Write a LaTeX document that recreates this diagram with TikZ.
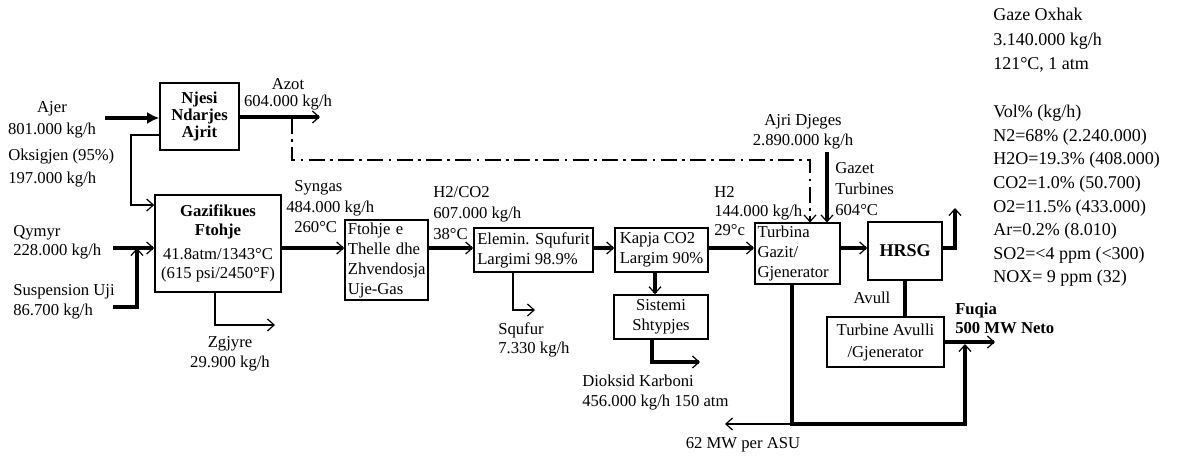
\documentclass[tikz,border=0pt]{standalone}
\usepackage{fontspec}
\setmainfont{Liberation Serif}
\usetikzlibrary{arrows.meta,calc}
\begin{document}
\begin{tikzpicture}[x=0.75pt,y=-0.75pt,
  box/.style={draw,line width=1.2pt,inner sep=2pt},
  txt/.style={font=\fontsize{12.5}{15}\selectfont,inner sep=0pt},
  rtxt/.style={font=\fontsize{13.5}{17.7}\selectfont,inner sep=0pt,align=left,anchor=north west},
  thk/.style={line width=2.9pt},
  thn/.style={line width=1.1pt},
  arr/.style={-{Straight Barb[line width=0.9pt,length=5pt,width=9pt]}},
  dashdot/.style={line width=1.1pt,dash pattern=on 12pt off 4pt on 2pt off 4pt}
]
\useasboundingbox (0,0) rectangle (1196,455);

% boxes
\node[box,minimum width=59.25pt,minimum height=50.25pt,align=center,font=\fontsize{12.5}{12.8}\selectfont\bfseries] (njesi) at (199.5,116.5) {Njesi\\Ndarjes\\Ajrit};
\node[box,minimum width=94.5pt,minimum height=72.75pt,align=center,font=\fontsize{12.5}{14}\selectfont] (gas) at (218,243.5) {\textbf{Gazifikues}\\\textbf{Ftohje}\\[4pt]41.8atm/1343°C\\(615 psi/2450°F)};
\node[box,minimum width=62.25pt,minimum height=60pt,align=left,font=\fontsize{12.5}{15}\selectfont,text width=58pt] (ftohje) at (386.5,260) {Ftohje e\\Thelle dhe\\Zhvendosja\\Uje-Gas};
\node[box,minimum width=89.25pt,minimum height=33pt,align=left,font=\fontsize{12.5}{15}\selectfont] (elemin) at (533.5,250) {Elemin. Squfurit\\Largimi 98.9\%};
\node[box,minimum width=69.75pt,minimum height=33pt,align=left,font=\fontsize{12.5}{15}\selectfont] (kapja) at (661.5,250) {Kapja CO2\\Largim 90\%};
\node[box,minimum width=70.5pt,minimum height=33pt,align=center,font=\fontsize{12.5}{15}\selectfont] (sist) at (661,317) {Sistemi\\Shtypjes};
\node[box,minimum width=63.75pt,minimum height=42.75pt,align=left,font=\fontsize{12.5}{15}\selectfont,text width=60pt] (turb) at (797.5,253.5) {Turbina\\Gazit/\\Gjenerator};
\node[box,minimum width=55.5pt,minimum height=43.5pt,font=\fontsize{13.5}{15}\selectfont\bfseries] (hrsg) at (905,251) {HRSG};
\node[box,minimum width=87.75pt,minimum height=37.5pt,align=center,font=\fontsize{12.5}{16.5}\selectfont] (tav) at (885.5,342) {Turbine Avulli\\/Gjenerator};

% coordinates
\coordinate (mY) at (0,248);
\coordinate (ajerS) at (105,118);
\coordinate (oxA) at (131,135);
\coordinate (oxB) at (131,205);
\coordinate (qyS) at (113,248);
\coordinate (suS) at (113,307);
\coordinate (suJ) at (137,307);
\coordinate (zgA) at (215,325);
\coordinate (zgB) at (275,325);
\coordinate (azE) at (320,117);
\coordinate (dA) at (292,118);
\coordinate (dB) at (292,160);
\coordinate (dC) at (810,160);
\coordinate (sqA) at (513,310);
\coordinate (sqB) at (535,310);
\coordinate (kx) at (655,0);
\coordinate (coA) at (652,362);
\coordinate (coB) at (700,362);
\coordinate (ajA) at (827,152);
\coordinate (exA) at (955,248);
\coordinate (exB) at (955,208);
\coordinate (fuE) at (995,342);
\coordinate (pA) at (792,424);
\coordinate (pB) at (965,424);
\coordinate (pC) at (965,344);
\coordinate (asu) at (725,424);

% connectors
\draw[thk,-{Latex[length=9pt,width=9pt]}] (ajerS) -- (ajerS -| njesi.west);
\draw[thn,arr] (oxA -| njesi.west) -- (oxA) -- (oxB) -- (oxB -| gas.west);
\draw[thk,arr] (qyS) -- (qyS -| gas.west);
\draw[thk,arr] (suS) -- (suJ) -- (suJ |- qyS);
\draw[thn,arr] (gas.south -| zgA) -- (zgA) -- (zgB);
\draw[thk,arr] (azE -| njesi.east) -- (azE);
\draw[dashdot,arr] (dA) -- (dB) -- (dC) -- (dC |- turb.north);
\draw[thk,arr] (gas.east |- mY) -- (ftohje.west |- mY);
\draw[thk,arr] (ftohje.east |- mY) -- (elemin.west |- mY);
\draw[thk,arr] (elemin.east |- mY) -- (kapja.west |- mY);
\draw[thk,arr] (kapja.east |- mY) -- (turb.west |- mY);
\draw[thk,arr] (turb.east |- mY) -- (hrsg.west |- mY);
\draw[thn,arr] (elemin.south -| sqA) -- (sqA) -- (sqB);
\draw[thk,arr] (kapja.south -| kx) -- (sist.north -| kx);
\draw[thk,arr] (sist.south -| coA) -- (coA) -- (coB);
\draw[thk,arr] (ajA) -- (ajA |- turb.north);
\draw[thk,arr] (hrsg.east |- mY) -- (exA) -- (exB);
\draw[thk] (hrsg.south) -- (hrsg.south |- tav.north);
\draw[thk,arr] (tav.east |- fuE) -- (fuE);
\draw[thk,arr] (turb.south -| pA) -- (pA) -- (pB) -- (pC);
\draw[thn,arr] (pA) -- (asu);

% labels
\node[txt,align=center,font=\fontsize{12.5}{16.5}\selectfont] (tAjer) at (52,120) {Ajer\\801.000 kg/h};
\node[txt,align=left,anchor=west,font=\fontsize{12.5}{17}\selectfont] (tOks) at (8,168) {Oksigjen (95\%)\\197.000 kg/h};
\node[txt,align=left,anchor=west,font=\fontsize{12.5}{14.3}\selectfont] (tQy) at (13,242) {Qymyr\\228.000 kg/h};
\node[txt,align=left,anchor=west] (tSu) at (13,302) {Suspension Uji\\86.700 kg/h};
\node[txt,align=center,font=\fontsize{12.5}{12.5}\selectfont] (tAzot) at (288,94) {Azot\\604.000 kg/h};
\node[txt,align=center] (tZg) at (230,354) {Zgjyre\\29.900 kg/h};
\node[txt,align=left,anchor=west,font=\fontsize{12.5}{15.4}\selectfont] (tSyn) at (286,207) {\hspace*{6pt}Syngas\\484.000 kg/h\\\hspace*{6pt}260°C};
\node[txt,align=left,anchor=west,font=\fontsize{12.5}{15.75}\selectfont] (tH2C) at (433,213) {H2/CO2\\607.000 kg/h\\38°C};
\node[txt,align=left,anchor=west,font=\fontsize{12.5}{14.3}\selectfont] (tSq) at (498,340) {Squfur\\7.330 kg/h};
\node[txt,align=left,anchor=west,font=\fontsize{12.5}{14.3}\selectfont] (tH2) at (714,211) {H2\\144.000 kg/h\\29°c};
\node[txt,align=center] (tAj) at (803,132) {Ajri Djeges\\2.890.000 kg/h};
\node[txt,align=left,anchor=west,font=\fontsize{12.5}{15.75}\selectfont] (tGz) at (835,189) {Gazet\\Turbines\\604°C};
\node[txt] (tAv) at (872,298) {Avull};
\node[txt,align=left,anchor=west,font=\fontsize{12.5}{14.3}\selectfont\bfseries] (tFu) at (955,318) {Fuqia\\500 MW Neto};
\node[txt,align=left,anchor=west] (tDk) at (582,393) {Dioksid Karboni\\456.000 kg/h 150 atm};
\node[txt] (tAsu) at (743,445) {62 MW per ASU};
\node[rtxt,font=\fontsize{13.5}{18.4}\selectfont] (tGo) at (993,8) {Gaze Oxhak\\3.140.000 kg/h\\121°C, 1 atm};
\node[rtxt] (tVol) at (993,105) {Vol\% (kg/h)\\N2=68\% (2.240.000)\\H2O=19.3\% (408.000)\\CO2=1.0\% (50.700)\\O2=11.5\% (433.000)\\Ar=0.2\% (8.010)\\SO2=<4 ppm (<300)\\NOX= 9 ppm (32)};
\end{tikzpicture}
\end{document}
